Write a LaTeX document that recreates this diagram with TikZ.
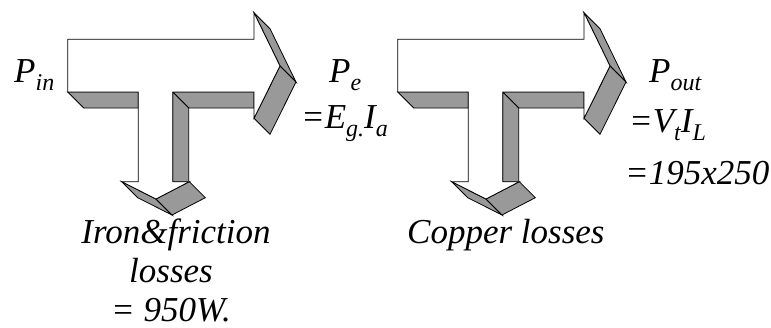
\documentclass[tikz,border=0pt]{standalone}
\usepackage{fontspec}
\setmainfont{Liberation Serif}
\newfontfamily\lblfont{Liberation Serif}
\usepackage{tikz}
\definecolor{sidegray}{RGB}{153,153,153}
\newcommand{\lowsub}[1]{\raisebox{-8pt}{\fontsize{24}{24}\selectfont #1}}

\begin{document}
\begin{tikzpicture}[x=1pt, y=-1pt,
  front/.style={draw=black, fill=white, line width=0.8pt, line join=miter},
  side/.style={draw=black, fill=sidegray, line width=0.8pt, line join=miter},
  lbl/.style={font=\lblfont\fontsize{35}{39}\selectfont\itshape, inner sep=0pt}
]
  \useasboundingbox (0,0) rectangle (771,327);

  % two T-shaped block arrows, grey sides first, then the white front
  \foreach \dx in {0,330}{
    \begin{scope}[xshift=\dx]
      \draw[side] (67.7,92) -- (138.3,92) -- (138.3,108) -- (83.7,108) -- cycle;
      \draw[side] (172.7,92) -- (254,92) -- (254,108) -- (188.7,108) -- cycle;
      \draw[side] (172.7,92) -- (188.7,108) -- (188.7,181.7) -- (172.7,181.7) -- cycle;
      \draw[side] (254,12.7) -- (270,28.7) -- (296,82) -- (280,66) -- cycle;
      \draw[side] (280,66) -- (296,82) -- (270,134.3) -- (254,118.3) -- cycle;
      \draw[side] (121.7,181.7) -- (156,199) -- (172,215) -- (137.7,197.7) -- cycle;
      \draw[side] (156,199) -- (189.3,181.7) -- (205.3,197.7) -- (172,215) -- cycle;
      \draw[front] (67.7,39.3) -- (254,39.3) -- (254,12.7) -- (280,66) -- (254,118.3)
        -- (254,92) -- (172.7,92) -- (172.7,181.7) -- (189.3,181.7) -- (156,199)
        -- (121.7,181.7) -- (138.3,181.7) -- (138.3,92) -- (67.7,92) -- cycle;
    \end{scope}
  }

  % power labels
  \node[lbl, anchor=base west] (pin)  at (14,82)   {P\lowsub{in}};
  \node[lbl, anchor=base west] (pe)   at (329,82)  {P\lowsub{e}};
  \node[lbl, anchor=base west] (egia) at (301,128) {=E\lowsub{g.}I\lowsub{a}};
  \node[lbl, anchor=base west] (pout) at (649,82)  {P\lowsub{out}};
  \node[lbl, anchor=base west] (vtil) at (629,132) {=V\lowsub{t}I\lowsub{L}};
  \node[lbl, anchor=base west] (prod) at (625,184) {=195x250};

  % loss labels
  \node[lbl, anchor=base] (iron)  at (176,243) {Iron\&friction};
  \node[lbl, anchor=base] (iron2) at (171,282) {losses};
  \node[lbl, anchor=base] (iron3) at (171,321) {= 950W.};
  \node[lbl, anchor=base west] (cu) at (407,243) {Copper losses};
\end{tikzpicture}
\end{document}
